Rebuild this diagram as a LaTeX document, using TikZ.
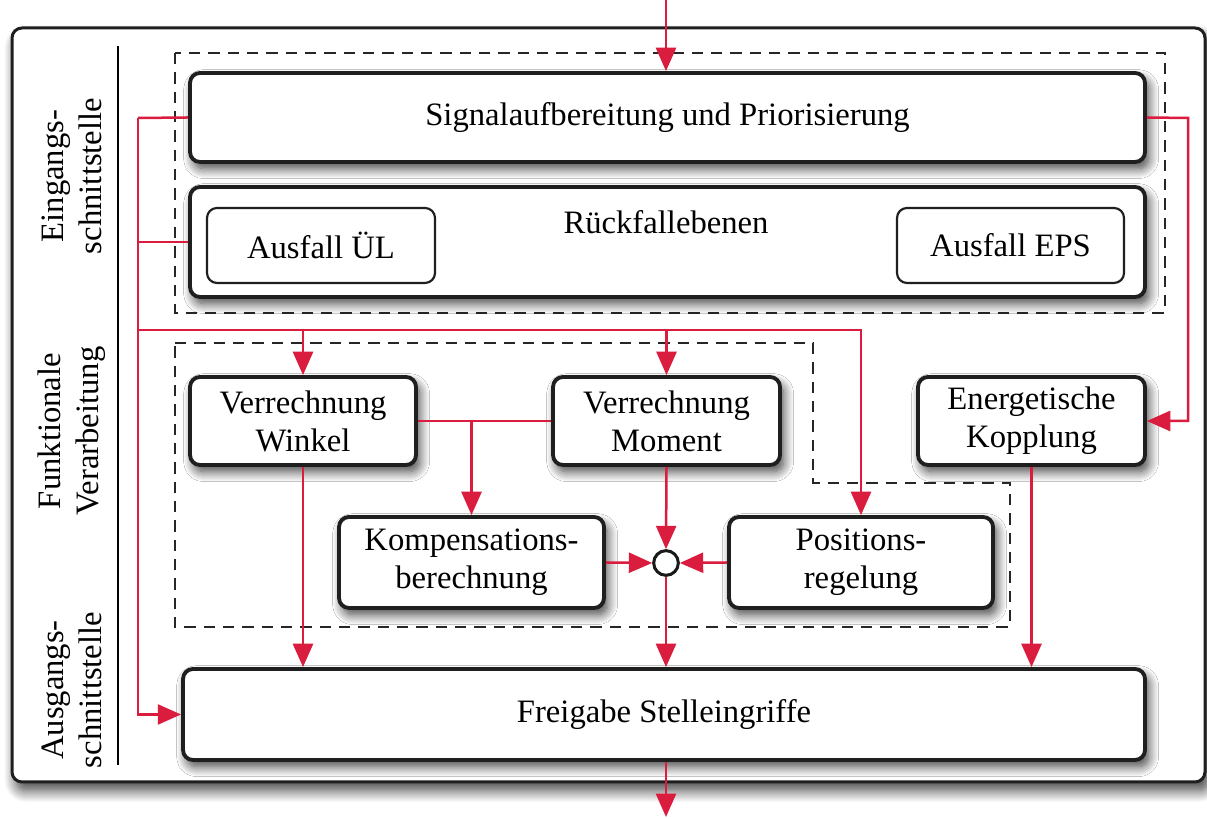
\documentclass[tikz,border=0pt]{standalone}
\usepackage{fontspec}
\setmainfont{Liberation Serif}
\usetikzlibrary{fit,shadows.blur,arrows.meta,calc}
\definecolor{redarr}{RGB}{218,28,62}
\newcommand{\fsz}{\fontsize{9.8pt}{11.4pt}\selectfont}
\begin{document}
\begin{tikzpicture}[x=0.3pt,y=-0.3pt,
  every node/.style={font=\fsz},
  shad/.style={blur shadow={shadow xshift=1.1pt, shadow yshift=-2.0pt, shadow blur radius=3pt, shadow blur steps=12, shadow opacity=75}},
  bigshad/.style={blur shadow={shadow xshift=1.2pt, shadow yshift=-2.6pt, shadow blur radius=3.5pt, shadow blur steps=12, shadow opacity=75}},
  box/.style={draw=black!88, line width=1.15pt, rounded corners=3pt, fill=white, inner sep=0pt, shad},
  subbox/.style={draw=black!88, line width=0.65pt, rounded corners=3pt, fill=white, inner sep=0pt},
  txt/.style={align=center, inner sep=0pt},
  dashbox/.style={draw=black!85, line width=0.85pt, dash pattern=on 3.4pt off 2.4pt},
  redline/.style={draw=redarr, line width=0.75pt},
  arr/.style={redline, -{Triangle[length=7pt,width=6pt]}},
]
\useasboundingbox (0,0) rectangle (1207,819);
% outer frame
\draw[line width=0.9pt, draw=black!88, rounded corners=3pt, fill=white, bigshad] (12,28) rectangle (1205,782);
\draw[line width=0.5pt] (118,46) -- (118,765);
\node[rotate=90, align=center] (l1) at (72,176) {Eingangs-\\schnittstelle};
\node[rotate=90, align=center] (l2) at (72,431) {Funktionale\\Verarbeitung};
\node[rotate=90, align=center] (l3) at (72,690) {Ausgangs-\\schnittstelle};
% dashed groups
\draw[dashbox] (175,53) rectangle (1165,313);
\draw[dashbox] (175,343) -- (813,343) -- (813,483) -- (1010,483) -- (1010,627) -- (175,627) -- cycle;
% boxes
\node[box, fit={(190,73) (1145,162)}] (sig) {};
\node[txt] at (sig.center) {Signalaufbereitung und Priorisierung};
\node[box, fit={(190,187) (1145,297)}] (rf) {};
\node[txt] (rft) at (666,222) {Rückfallebenen};
\node[subbox, fit={(207,208) (435,283)}] (aul) {};
\node[txt] at (aul.center) {Ausfall ÜL};
\node[subbox, fit={(897,208) (1124,283)}] (aeps) {};
\node[txt] at (aeps.center) {Ausfall EPS};
\node[box, fit={(190,377) (416,465)}] (win) {};
\node[txt] at (win.center) {Verrechnung\\Winkel};
\node[box, fit={(553,377) (780,465)}] (mom) {};
\node[txt] at (mom.center) {Verrechnung\\Moment};
\node[box, fit={(918,377) (1145,465)}] (ek) {};
\node[txt] at (ek.center) {Energetische\\Kopplung};
\node[box, fit={(339,517) (604,608)}] (kom) {};
\node[txt] at (kom.center) {Kompensations-\\berechnung};
\node[box, fit={(729,517) (993,608)}] (pos) {};
\node[txt] at (pos.center) {Positions-\\regelung};
\node[box, fit={(183,669) (1145,760)}] (frei) {};
\node[txt] at (frei.center) {Freigabe Stelleingriffe};
\node[circle, draw=black!90, line width=0.9pt, fill=white, minimum size=7.4pt, inner sep=0pt] (sum) at (666,563) {};
% coordinates
\coordinate (in) at (666,0);
\coordinate (out) at (666,817);
\coordinate (lx) at (138,118);
\coordinate (bus) at (138,330);
\coordinate (rx) at (1188,118);
% connectors
\draw[arr] (in) -- (in |- sig.north);
\draw[arr] (frei.south -| out) -- (out);
\draw[redline] (sig.west) -- (lx);
\draw[redline] (rf.west) -- (rf.west -| lx);
\draw[arr] (lx) |- (frei.west);
\draw[arr] (bus) -| (pos.north);
\draw[arr] (bus -| win.north) -- (win.north);
\draw[arr] (bus -| mom.north) -- (mom.north);
\draw[arr] (sig.east) -- (rx) |- (ek.east);
\draw[redline] (win.east) -- (mom.west);
\draw[arr] (win.east -| kom.north) -- (kom.north);
\draw[arr] (mom.south) -- (sum.north);
\draw[arr] (kom.east) -- (sum.west);
\draw[arr] (pos.west) -- (sum.east);
\draw[arr] (sum.south) -- (sum.south |- frei.north);
\draw[arr] (win.south) -- (win.south |- frei.north);
\draw[arr] (ek.south) -- (ek.south |- frei.north);
\end{tikzpicture}
\end{document}
